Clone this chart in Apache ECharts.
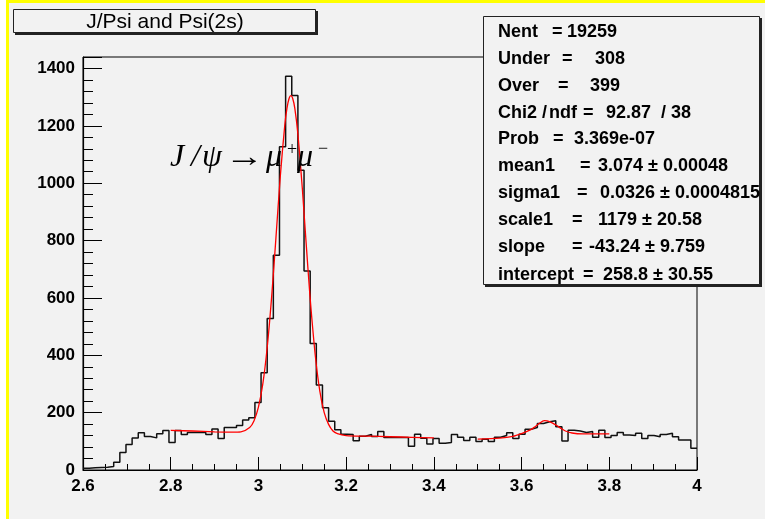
<!DOCTYPE html>
<html><head><meta charset="utf-8">
<script src="https://cdn.jsdelivr.net/npm/echarts@6/dist/echarts.min.js"></script>
<style>html,body{margin:0;padding:0;background:#fff}#c{width:765px;height:519px}</style>
</head><body><div id="c"></div>
<script>
// Histogram binning (100 bins from 2.6 to 4.0)
const binStart = 2.6;
const binWidth = 0.014;
const counts = [
  6, 8, 9, 10, 12, 27, 61, 89, 112, 130,
  117, 112, 126, 138, 96, 138, 124, 131, 131, 131,
  124, 143, 110, 148, 148, 155, 174, 182, 235, 339,
  528, 749, 1127, 1373, 1306, 1045, 694, 441, 296, 217,
  170, 140, 125, 124, 102, 118, 124, 117, 134, 113,
  113, 113, 113, 83, 125, 111, 91, 110, 93, 96,
  124, 114, 103, 114, 99, 107, 99, 114, 120, 130,
  110, 125, 142, 148, 162, 168, 172, 151, 101, 139,
  136, 131, 134, 114, 139, 113, 120, 131, 122, 120,
  128, 110, 120, 116, 124, 128, 116, 105, 105, 76
];
// Red fit curves
const fitJpsi = [
  [2.80,138],[2.85,136],[2.90,133],[2.94,132],[2.96,133],[2.98,148],[2.99,172],[3.00,219],
  [3.01,300],[3.02,427],[3.03,601],[3.04,811],[3.05,1026],[3.06,1201],[3.065,1261],[3.07,1296],
  [3.074,1305],[3.078,1296],[3.083,1261],[3.09,1171],[3.10,983],[3.105,874],[3.11,765],[3.115,658],
  [3.12,560],[3.13,394],[3.14,275],[3.15,200],[3.16,159],[3.17,136],[3.18,127],[3.20,120],
  [3.25,118],[3.30,116],[3.35,114],[3.40,112]
];
const fitPsi2s = [
  [3.50,108],[3.55,111],[3.58,117],[3.60,127],[3.62,140],[3.63,150],[3.64,162],[3.652,172],
  [3.665,168],[3.68,155],[3.69,145],[3.70,136],[3.715,129],[3.74,126],[3.77,126],[3.80,126]
];
const titleText = 'J/Psi and Psi(2s)';
// stats box lines: label, value text
const statsLabels = ['Nent', 'Under', 'Over', 'Chi2 / ndf', 'Prob', 'mean1', 'sigma1', 'scale1', 'slope', 'intercept'];
const statsValues = ['19259', '308', '399', '92.87  / 38', '3.369e-07', '3.074 \u00b1 0.00048', '0.0326 \u00b1 0.0004815', '1179 \u00b1 20.58', '-43.24 \u00b1 9.759', '258.8 \u00b1 30.55'];
const eqX = [552, 562, 558, 583, 553, 580, 577, 572, 572, 583];
const endX = [617, 625, 620, 691, 655, 728, 760, 702, 705, 713];
const lineY = [31.7, 59.3, 86, 113.3, 139.3, 166, 193.3, 220, 247.3, 275];

const histData = counts.map((v, k) => [binStart + k * binWidth, v]);
histData.push([binStart + counts.length * binWidth, counts[counts.length - 1]]);

const chart = echarts.init(document.getElementById('c'), null, {renderer: 'canvas'});
const graphics = [];
const sans = '"Liberation Sans", Arial, sans-serif';
const boldF = 'bold 18px ' + sans;
// page decorations
graphics.push({type:'rect', shape:{x:0,y:0,width:6,height:519}, style:{fill:'#ffffff'}, z:100});
graphics.push({type:'rect', shape:{x:6,y:0,width:3,height:519}, style:{fill:'#ffff00'}, z:100});
graphics.push({type:'rect', shape:{x:6,y:0,width:759,height:3}, style:{fill:'#ffff00'}, z:100});
// title box
graphics.push({type:'rect', shape:{x:15,y:11,width:303,height:24}, style:{fill:'#222'}, z:100});
graphics.push({type:'rect', shape:{x:13.5,y:9.5,width:302,height:23}, style:{fill:'#f2f2f2', stroke:'#222', lineWidth:1}, z:101});
graphics.push({type:'text', x:165, y:22, style:{text:titleText, fill:'#000', font:'21px ' + sans, align:'center', verticalAlign:'middle'}, z:102});
// stats box
graphics.push({type:'rect', shape:{x:485,y:18,width:277,height:269}, style:{fill:'#222'}, z:100});
graphics.push({type:'rect', shape:{x:483.5,y:16.5,width:276,height:268}, style:{fill:'#f2f2f2', stroke:'#222', lineWidth:1}, z:101});
statsLabels.forEach((lab, i) => {
  if (lab === 'Chi2 / ndf') {
    [['Chi2',498],['/',542],['ndf',549]].forEach(([t,x]) => graphics.push({type:'text', x:x, y:lineY[i], style:{text:t, fill:'#000', font:boldF, align:'left', verticalAlign:'middle'}, z:102}));
  } else {
    graphics.push({type:'text', x:498, y:lineY[i], style:{text:lab, fill:'#000', font:boldF, align:'left', verticalAlign:'middle'}, z:102});
  }
  graphics.push({type:'text', x:eqX[i], y:lineY[i], style:{text:'=', fill:'#000', font:boldF, align:'left', verticalAlign:'middle'}, z:102});
  graphics.push({type:'text', x:endX[i], y:lineY[i], style:{text:statsValues[i], fill:'#000', font:boldF, align:'right', verticalAlign:'middle'}, z:102});
});
// formula J/psi -> mu+ mu-
const serifI = 'italic 32px "Liberation Serif", "Times New Roman", serif';
const serif = '30px "Liberation Serif", "Times New Roman", serif';
const small = '18px "Liberation Serif", "Times New Roman", serif';
const formula = [
  ['J',170,serifI,158,1],['/',191,serifI,158,1],['\u03c8',202,serifI,158,1],['\u2192',225,serif,158,1.3],
  ['\u03bc',266,serifI,158,1],['+',287,small,150,1],['\u03bc',297,serifI,158,1],['\u2212',318,small,149,1]
];
formula.forEach(([t,x,f,y,sx]) => graphics.push({type:'text', x:x, y:y, scaleX:sx, style:{text:t, fill:'#000', font:f, align:'left', verticalAlign:'middle'}, z:50}));

const labelFont = {color:'#000', fontSize:17, fontWeight:'bold', fontFamily:sans};
chart.setOption({
  animation: false,
  backgroundColor: '#f2f2f2',
  grid: {left:83, right:68, top:57, bottom:49, show:true, borderColor:'#000', borderWidth:1, backgroundColor:'transparent'},
  xAxis: {
    type:'value', min:2.6, max:4.0, interval:0.2,
    axisLine:{show:true, onZero:false, lineStyle:{color:'#000', width:1.2}},
    axisTick:{show:true, inside:true, length:13, lineStyle:{color:'#000'}},
    minorTick:{show:true, splitNumber:4, length:6, lineStyle:{color:'#000'}},
    splitLine:{show:false},
    axisLabel:Object.assign({margin:8, formatter: v => String(+v.toFixed(1))}, labelFont)
  },
  yAxis: {
    type:'value', min:0, max:1440, interval:200,
    axisLine:{show:true, lineStyle:{color:'#000', width:1.2}},
    axisTick:{show:true, inside:true, length:19, lineStyle:{color:'#000'}},
    minorTick:{show:true, splitNumber:5, length:10, lineStyle:{color:'#000'}},
    splitLine:{show:false},
    axisLabel:Object.assign({margin:8, showMaxLabel:false, formatter: v => String(Math.round(v))}, labelFont)
  },
  series: [
    {type:'line', data:histData, step:'end', symbol:'none', lineStyle:{color:'#111', width:1.5}, z:3},
    {type:'line', data:fitJpsi, smooth:0.3, symbol:'none', lineStyle:{color:'#ff0000', width:1.3}, z:4},
    {type:'line', data:fitPsi2s, smooth:0.3, symbol:'none', lineStyle:{color:'#ff0000', width:1.3}, z:4}
  ],
  graphic: graphics
});
</script></body></html>
